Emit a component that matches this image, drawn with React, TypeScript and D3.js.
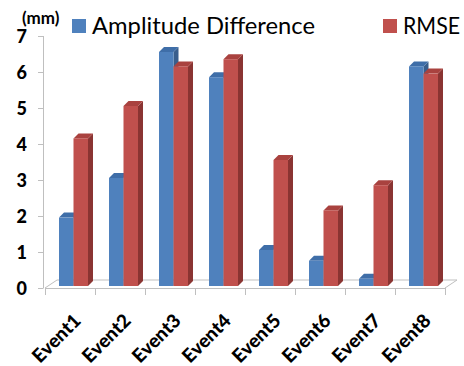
import React, { useEffect, useRef } from 'react'
import * as d3 from 'd3'

const categories = ['Event1', 'Event2', 'Event3', 'Event4', 'Event5', 'Event6', 'Event7', 'Event8']
const amplitudeDiff = [1.9, 3.0, 6.5, 5.8, 1.0, 0.7, 0.2, 6.1]
const rmse = [4.1, 5.0, 6.1, 6.3, 3.5, 2.1, 2.8, 5.9]
const yTicks = [0, 1, 2, 3, 4, 5, 6, 7]
const seriesNames = ['Amplitude Difference', 'RMSE']

export default function App() {
  const ref = useRef<SVGSVGElement>(null)

  useEffect(() => {
    const svg = d3.select(ref.current)
    svg.selectAll('*').remove()

    const w = 464, h = 366
    const font = 'Lato, "Open Sans", sans-serif'

    // plot box
    const x0 = 45, x1 = 445
    const yScale = d3.scaleLinear().domain([0, 7]).range([288, 36])
    const xScale = d3.scaleBand<string>().domain(categories).range([x0, x1])
    const inner = d3.scaleBand<number>().domain([0, 1]).range([14, 43])

    // floor depth
    const fdx = 12, fdy = -8

    const colors = [
      { front: '#4f81bd', top: '#3f6ea8', side: '#395e8c' },
      { front: '#c0504d', top: '#a9423f', side: '#8a3432' },
    ]

    // floor
    svg.append('path')
      .attr('d', `M${x0},${yScale(0)} L${x0 + fdx},${yScale(0) + fdy} L${x1 + fdx},${yScale(0) + fdy} L${x1},${yScale(0)}`)
      .attr('fill', 'none')
      .attr('stroke', '#bfbfbf')
      .attr('stroke-width', 1)

    // y axis line + ticks
    svg.append('line')
      .attr('x1', 43.5).attr('x2', 43.5)
      .attr('y1', yScale(7)).attr('y2', yScale(0))
      .attr('stroke', '#bfbfbf')
    svg.selectAll('.ytick').data(yTicks).enter().append('line')
      .attr('x1', 38).attr('x2', 43.5)
      .attr('y1', d => yScale(d) + 0.5).attr('y2', d => yScale(d) + 0.5)
      .attr('stroke', '#bfbfbf')
    svg.selectAll('.ylab').data(yTicks).enter().append('text')
      .attr('x', 27).attr('y', d => yScale(d) + 7)
      .attr('text-anchor', 'end')
      .attr('font-family', font).attr('font-weight', 900).attr('font-size', 18)
      .attr('fill', '#000')
      .text(d => d)

    // x axis ticks
    const xt = d3.range(categories.length + 1).map(i => x0 + i * xScale.bandwidth())
    svg.append('line')
      .attr('x1', x0).attr('x2', x1)
      .attr('y1', yScale(0) + 0.5).attr('y2', yScale(0) + 0.5)
      .attr('stroke', '#bfbfbf')
    svg.selectAll('.xtick').data(xt).enter().append('line')
      .attr('x1', d => d + 0.5).attr('x2', d => d + 0.5)
      .attr('y1', yScale(0)).attr('y2', yScale(0) + 7)
      .attr('stroke', '#bfbfbf')

    // bars
    const bdx = 5, bdy = -5
    const bw = inner.bandwidth()
    const series = [amplitudeDiff, rmse]
    series.forEach((vals, s) => {
      const g = svg.append('g')
      vals.forEach((v, i) => {
        const bx = (xScale(categories[i]) as number) + (inner(s) as number)
        const by = yScale(v) - 2
        const base = yScale(0) - 2
        // side
        g.append('path')
          .attr('d', `M${bx + bw},${by} L${bx + bw + bdx},${by + bdy} L${bx + bw + bdx},${base + bdy} L${bx + bw},${base} Z`)
          .attr('fill', colors[s].side)
        // top
        g.append('path')
          .attr('d', `M${bx},${by} L${bx + bdx},${by + bdy} L${bx + bw + bdx},${by + bdy} L${bx + bw},${by} Z`)
          .attr('fill', colors[s].top)
        // front
        g.append('rect')
          .attr('x', bx).attr('y', by)
          .attr('width', bw).attr('height', base - by)
          .attr('fill', colors[s].front)
      })
    })

    // category labels
    svg.selectAll('.xlab').data(categories).enter().append('text')
      .attr('transform', d => `translate(${(xScale(d) as number) + 37},${322}) rotate(-45)`)
      .attr('text-anchor', 'end')
      .attr('font-family', font).attr('font-weight', 900).attr('font-size', 19)
      .attr('fill', '#000')
      .text(d => d)

    // unit
    svg.append('text')
      .attr('x', 22).attr('y', 24)
      .attr('font-family', font).attr('font-weight', 'bold').attr('font-size', 17)
      .attr('fill', '#000')
      .text('(mm)')

    // legend
    const legX = [72, 383]
    const legLen = [223, 57]
    seriesNames.forEach((name, s) => {
      svg.append('rect')
        .attr('x', legX[s]).attr('y', 19)
        .attr('width', 14).attr('height', 14)
        .attr('fill', colors[s].front)
      svg.append('text')
        .attr('x', legX[s] + 20).attr('y', 34)
        .attr('font-family', font).attr('font-size', 23)
        .attr('textLength', legLen[s])
        .attr('lengthAdjust', 'spacingAndGlyphs')
        .attr('fill', '#000')
        .text(name)
    })

    svg.attr('width', w).attr('height', h)
  }, [])

  return (
    <svg ref={ref} width={464} height={366}
      style={{ position: 'absolute', left: 0, top: 0, background: '#fff' }} />
  )
}
